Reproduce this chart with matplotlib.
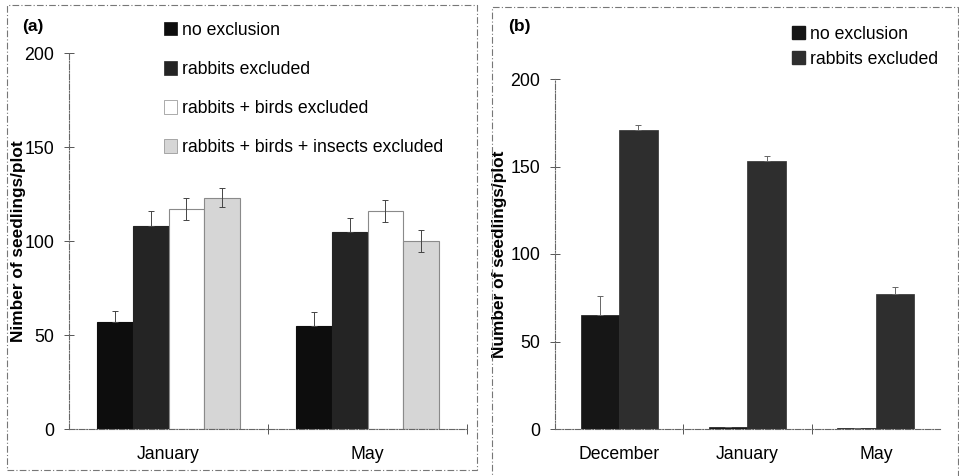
import numpy as np
import matplotlib
matplotlib.use('Agg')
import matplotlib.pyplot as plt
from matplotlib.patches import Rectangle, Patch

plt.rcParams['font.family'] = ['Liberation Sans', 'DejaVu Sans']

# panel (a)
months_a = ['January', 'May']
series_a = ['no exclusion', 'rabbits excluded', 'rabbits + birds excluded',
            'rabbits + birds + insects excluded']
vals_a = [[57, 55], [108, 105], [117, 116], [123, 100]]
errs_a = [[6, 7], [8, 7], [6, 6], [5, 6]]
cols_a = ['#0d0d0d', '#242424', '#ffffff', '#d6d6d6']
edges_a = ['#0d0d0d', '#242424', '#8a8a8a', '#8a8a8a']

# panel (b)
months_b = ['December', 'January', 'May']
series_b = ['no exclusion', 'rabbits excluded']
vals_b = [[65, 1, 0.5], [171, 153, 77]]
errs_b = [[11, 0, 0], [3, 3, 4]]
cols_b = ['#161616', '#2e2e2e']

fig = plt.figure(figsize=(9.59, 4.76), dpi=100)
W, H = 959, 476

def px(x0, y0, x1, y1):
    return [x0 / W, 1 - y1 / H, (x1 - x0) / W, (y1 - y0) / H]

# dashed frames around the panels
for x0, y0, x1, y1 in [(7, 5, 477, 470), (492, 7, 958, 480)]:
    fig.patches.append(Rectangle((x0 / W, 1 - y1 / H), (x1 - x0) / W, (y1 - y0) / H,
                                 transform=fig.transFigure, fill=False,
                                 ec='#777777', lw=0.8, ls=(0, (6, 2, 1, 2))))

def style_axes(ax):
    for s in ['top', 'right']:
        ax.spines[s].set_visible(False)
    for s in ['left', 'bottom']:
        ax.spines[s].set_color('#666666')
        ax.spines[s].set_linewidth(0.8)
        ax.spines[s].set_linestyle((0, (5, 1.5, 1, 1.5)))
    ax.set_ylim(0, 200)
    ax.set_yticks([0, 50, 100, 150, 200])
    ax.tick_params(axis='y', direction='inout', length=7, width=0.7,
                   color='#555555', labelsize=12.8, pad=7)
    ax.tick_params(axis='x', which='major', length=0, labelsize=12.7, pad=12)
    ax.tick_params(axis='x', which='minor', direction='inout', length=7,
                   width=0.7, color='#555555')

# ---- (a)
ax = fig.add_axes(px(69, 53, 467, 429))
n = len(series_a)
bw = 0.18
x = np.arange(len(months_a))
for i in range(n):
    pos = x + (i - (n - 1) / 2) * bw
    ax.bar(pos, vals_a[i], bw, color=cols_a[i], edgecolor=edges_a[i], lw=0.8)
    lower = np.zeros(len(months_a)) if i < 2 else errs_a[i]
    ax.errorbar(pos, vals_a[i], yerr=[lower, errs_a[i]], fmt='none', ecolor='#444444',
                elinewidth=0.7, capsize=2.5, capthick=0.7)
ax.set_xlim(-0.5, 1.5)
ax.set_xticks(x)
ax.set_xticklabels(months_a)
ax.set_xticks([0.5, 1.5], minor=True)
style_axes(ax)
ax.set_ylabel('Nimber of seedlings/plot', fontsize=12.4, fontweight='bold')
ax.yaxis.set_label_coords(-0.108, 0.5)
handles = [Patch(facecolor=cols_a[i], edgecolor=edges_a[i] if i > 1 else cols_a[i], lw=0.5)
           for i in range(n)]
ax.legend(handles, series_a, loc='upper left', bbox_to_anchor=(148 / W, 1 - 6 / H),
          bbox_transform=fig.transFigure, frameon=False, fontsize=12.7,
          labelspacing=1.25, handlelength=0.75, handleheight=0.8, handletextpad=0.3)
fig.text(22 / W, 1 - 27 / H, '(a)', fontsize=12.5, fontweight='bold', va='center')

# ---- (b)
ax2 = fig.add_axes(px(555, 79, 940, 429))
x2 = np.arange(len(months_b))
bw2 = 0.3
for i in range(len(series_b)):
    pos = x2 + (i - 0.5) * bw2
    ax2.bar(pos, vals_b[i], bw2, color=cols_b[i], edgecolor=cols_b[i], lw=0.5)
    ax2.errorbar(pos, vals_b[i], yerr=[np.zeros(len(months_b)), errs_b[i]], fmt='none',
                 ecolor='#666666', elinewidth=0.7, capsize=2, capthick=0.7)
ax2.set_xlim(-0.5, 2.5)
ax2.set_xticks(x2)
ax2.set_xticklabels(months_b)
ax2.set_xticks([0.5, 1.5], minor=True)
style_axes(ax2)
ax2.set_ylabel('Number of seedlings/plot', fontsize=12.4, fontweight='bold')
ax2.yaxis.set_label_coords(-0.124, 0.5)
handles2 = [Patch(facecolor=c, edgecolor=c) for c in cols_b]
ax2.legend(handles2, series_b, loc='upper left', bbox_to_anchor=(776 / W, 1 - 10 / H),
           bbox_transform=fig.transFigure, frameon=False, fontsize=12.7,
           labelspacing=0.45, handlelength=0.75, handleheight=0.8, handletextpad=0.3)
fig.text(508 / W, 1 - 27 / H, '(b)', fontsize=12.5, fontweight='bold', va='center')

fig.savefig('out.png', dpi=100)
